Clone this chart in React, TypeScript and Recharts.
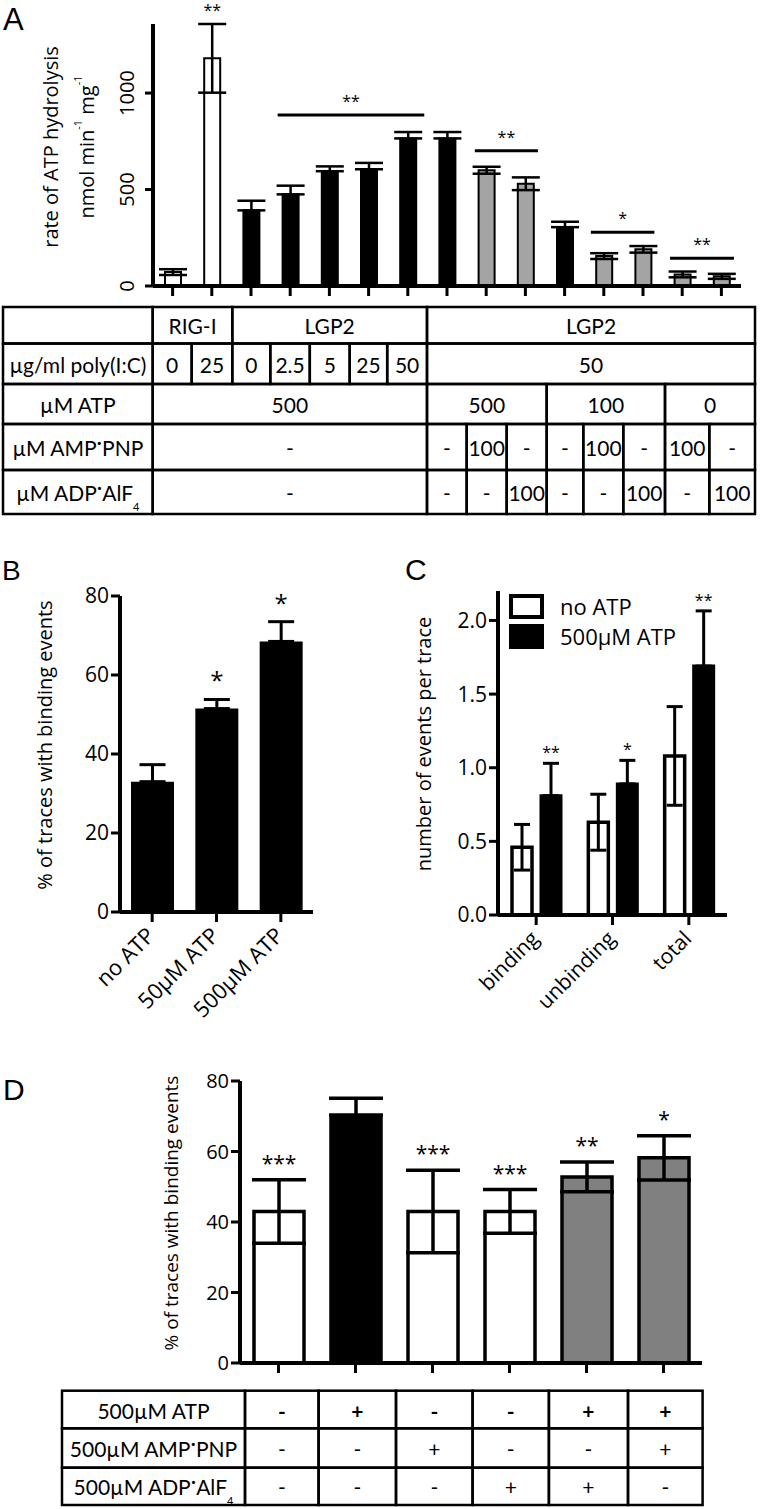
import React from 'react';
import { BarChart, Bar, XAxis, YAxis, ErrorBar, Cell, LabelList, ReferenceLine, Legend } from 'recharts';

const SANS = "'Open Sans', 'DejaVu Sans', sans-serif";
const TABLE_SANS = "Lato, 'Open Sans', sans-serif";
const LETTER = "'Liberation Sans', Arial, sans-serif";

// ---------------- Panel A ----------------
const aConditions = [
  'RIG-I 0', 'RIG-I 25', 'LGP2 0', 'LGP2 2.5', 'LGP2 5', 'LGP2 25', 'LGP2 50',
  'ATP500', 'ATP500+AMP-PNP', 'ATP500+ADP-AlF4', 'ATP100', 'ATP100+AMP-PNP', 'ATP100+ADP-AlF4',
  'AMP-PNP', 'ADP-AlF4',
];
const aRates = [72, 1180, 392, 475, 595, 605, 765, 765, 600, 530, 305, 155, 190, 60, 50];
const aErrors = [15, 178, 50, 45, 25, 33, 33, 33, 18, 33, 28, 15, 17, 15, 13];
const aGroups = ['open', 'open', 'solid', 'solid', 'solid', 'solid', 'solid', 'solid', 'grey', 'grey', 'solid', 'grey', 'grey', 'grey', 'grey'];
const aStars = ['', '**', '', '', '', '', '', '', '', '', '', '', '', '', ''];
const aYTicks = [0, 500, 1000];
const aSigFrom = [3.68, 8.71, 11.67, 13.69];
const aSigTo = [7.42, 10.32, 13.29, 15.32];
const aSigLevel = [886, 701, 278, 144];
const aSigMarks = ['**', '**', '*', '**'];

// table under panel A
const aRowProtein = [{ t: '', s: 1 }, { t: 'RIG-I', s: 2 }, { t: 'LGP2', s: 5 }, { t: 'LGP2', s: 8 }];
const aRowPoly = [{ t: 'µg/ml poly(I:C)', s: 1 }, { t: '0', s: 1 }, { t: '25', s: 1 }, { t: '0', s: 1 }, { t: '2.5', s: 1 }, { t: '5', s: 1 }, { t: '25', s: 1 }, { t: '50', s: 1 }, { t: '50', s: 8 }];
const aRowAtp = [{ t: 'µM ATP', s: 1 }, { t: '500', s: 7 }, { t: '500', s: 3 }, { t: '100', s: 3 }, { t: '0', s: 2 }];
const aRowAmp = [{ t: 'µM AMP·PNP', s: 1 }, { t: '-', s: 7 }, { t: '-', s: 1 }, { t: '100', s: 1 }, { t: '-', s: 1 }, { t: '-', s: 1 }, { t: '100', s: 1 }, { t: '-', s: 1 }, { t: '100', s: 1 }, { t: '-', s: 1 }];
const aRowAdp = [{ t: 'µM ADP·AlF4', s: 1 }, { t: '-', s: 7 }, { t: '-', s: 1 }, { t: '-', s: 1 }, { t: '100', s: 1 }, { t: '-', s: 1 }, { t: '-', s: 1 }, { t: '100', s: 1 }, { t: '-', s: 1 }, { t: '100', s: 1 }];

// ---------------- Panel B ----------------
const bConditions = ['no ATP', '50µM ATP', '500µM ATP'];
const bPercent = [33, 51.5, 68.5];
const bErrors = [4.3, 2.3, 5];
const bStars = ['', '*', '*'];
const bYTicks = [0, 20, 40, 60, 80];

// ---------------- Panel C ----------------
const cCategories = ['binding', 'unbinding', 'total'];
const cSeriesNames = ['no ATP', '500µM ATP'];
const cNoAtp = [0.46, 0.63, 1.08];
const cNoAtpErr = [0.155, 0.19, 0.335];
const cAtp = [0.81, 0.89, 1.69];
const cAtpErr = [0.22, 0.16, 0.375];
const cStars = ['**', '*', '**'];
const cYTicks = [0, 0.5, 1, 1.5, 2];

// ---------------- Panel D ----------------
const dConditions = ['none', 'ATP', 'AMP-PNP', 'ADP-AlF4', 'ATP + ADP-AlF4', 'ATP + AMP-PNP'];
const dPercent = [43, 70.3, 43, 43, 52.8, 58.2];
const dErrors = [9, 4.8, 11.7, 6.2, 4.2, 6.3];
const dGroups = ['open', 'solid', 'open', 'open', 'grey', 'grey'];
const dStars = ['***', '', '***', '***', '**', '*'];
const dYTicks = [0, 20, 40, 60, 80];
const dRowLabels = ['500µM ATP', '500µM AMP·PNP', '500µM ADP·AlF4'];
const dAtp = ['-', '+', '-', '-', '+', '+'];
const dAmp = ['-', '-', '+', '-', '-', '+'];
const dAdp = ['-', '-', '-', '+', '+', '-'];

// ---------------- helpers ----------------
const aFill: Record<string, string> = { open: '#ffffff', solid: '#000000', grey: '#a4a4a4' };
const dFill: Record<string, string> = { open: '#ffffff', solid: '#000000', grey: '#808080' };

const axisStyle = { stroke: '#000', strokeWidth: 4 };
const tickStyle = { stroke: '#000', strokeWidth: 3 };

// solid (black) bars only show the upper half of the error bar
const errFor = (d: any) => (d.group === 'solid' ? [0, d.err] : d.err);

const starLabel = (valueKey: string, errKey: string, starKey: string, gap: number, fontSize: number) => (props: any) => {
  const row = props.value;
  if (!row || typeof row !== 'object' || !row[starKey]) return null;
  const vb = props.viewBox || {};
  const x = Number(vb.x ?? props.x);
  const y = Number(vb.y ?? props.y);
  const w = Number(vb.width ?? props.width);
  const h = Number(vb.height ?? props.height);
  const v = row[valueKey];
  const top = y - (v ? (row[errKey] * h) / v : 0);
  return (
    <text x={x + w / 2} y={top - gap} textAnchor="middle" fontSize={fontSize} fontFamily={SANS} fill="#000">
      {row[starKey]}
    </text>
  );
};

const rich = (text: string, subSize: number, lift: number) => {
  let rest = text;
  let sub = false;
  if (rest.endsWith('AlF4')) {
    rest = rest.slice(0, -1);
    sub = true;
  }
  const parts: React.ReactNode[] = [];
  rest.split('·').forEach((s, i) => {
    if (i > 0) {
      parts.push(<tspan key={'d' + i} dy={-lift}>·</tspan>);
      parts.push(<tspan key={'r' + i} dy={lift}>{s}</tspan>);
    } else {
      parts.push(<tspan key={'s' + i}>{s}</tspan>);
    }
  });
  if (sub) parts.push(<tspan key="sub" dy={14} fontSize={subSize}>4</tspan>);
  return parts;
};

type CellDef = { t: string; s: number };

const SvgTable = ({ rows, colX, rowY, fontSize, boldRows }: { rows: CellDef[][]; colX: number[]; rowY: number[]; fontSize: number; boldRows?: number[] }) => {
  const out: React.ReactNode[] = [];
  rows.forEach((row, r) => {
    let c = 0;
    row.forEach((cell, k) => {
      const x0 = colX[c];
      const x1 = colX[c + cell.s];
      c += cell.s;
      const y0 = rowY[r];
      const y1 = rowY[r + 1];
      out.push(<rect key={`r${r}-${k}`} x={x0} y={y0} width={x1 - x0} height={y1 - y0} fill="none" stroke="#000" strokeWidth={2.5} />);
      if (cell.t) {
        out.push(
          <text
            key={`t${r}-${k}`}
            x={(x0 + x1) / 2}
            y={(y0 + y1) / 2}
            textAnchor="middle"
            dominantBaseline="central"
            fontSize={fontSize}
            fontWeight={boldRows && boldRows.includes(r) && k > 0 ? 700 : 400}
            fontFamily={TABLE_SANS}
            fill="#000"
          >
            {rich(cell.t, 11, 6)}
          </text>
        );
      }
    });
  });
  return <g>{out}</g>;
};

// ---------------- Panel A chart ----------------
const aData = aConditions.map((name, i) => ({ idx: i + 1, name, rate: aRates[i], err: aErrors[i], star: aStars[i], group: aGroups[i] }));

const ARotTick = (props: any) => {
  const { x, y, payload } = props;
  return (
    <text transform={`translate(${x - 17},${y}) rotate(-90)`} textAnchor="middle" dominantBaseline="central" fontSize={20} fill="#000" fontFamily={SANS}>
      {payload.value}
    </text>
  );
};

const aTitle = (props: any) => {
  const vb = props.viewBox || { x: 0, y: 24, width: 153, height: 262 };
  const cy = vb.y + vb.height / 2 - 8;
  return (
    <g fontFamily={SANS} fill="#000">
      <text transform={`translate(${vb.x + 50},${cy}) rotate(-90)`} textAnchor="middle" dominantBaseline="central" fontSize={20}>
        rate of ATP hydrolysis
      </text>
      <text transform={`translate(${vb.x + 86},${cy}) rotate(-90)`} textAnchor="middle" dominantBaseline="central" fontSize={20}>
        nmol min<tspan dy={-9} fontSize={11}>-1</tspan>
        <tspan dy={9}> mg</tspan>
        <tspan dy={-9} fontSize={11}>-1</tspan>
      </text>
    </g>
  );
};

const PanelA = () => (
  <BarChart width={760} height={300} data={aData} margin={{ top: 24, right: 19, bottom: 0, left: 0 }} style={{ fontFamily: SANS }}>
    <XAxis
      type="number"
      dataKey="idx"
      domain={[0.5, 15.5]}
      ticks={aData.map((d) => d.idx)}
      tickFormatter={() => ''}
      height={14}
      tickSize={10}
      axisLine={axisStyle}
      tickLine={tickStyle}
      allowDataOverflow
    />
    <YAxis type="number" domain={[0, 1350]} ticks={aYTicks} width={153} tickSize={8} axisLine={axisStyle} tickLine={tickStyle} tick={ARotTick} label={aTitle} />
    <Bar dataKey="rate" barSize={16} stroke="#000" strokeWidth={2} isAnimationActive={false}>
      {aData.map((d) => (
        <Cell key={d.name} fill={aFill[d.group]} />
      ))}
      <ErrorBar dataKey={errFor} width={14} strokeWidth={2.5} stroke="#000" direction="y" />
      <LabelList dataKey={(d: any) => d} content={starLabel('rate', 'err', 'star', 8, 16)} />
    </Bar>
    {aSigMarks.map((m, i) => (
      <ReferenceLine
        key={`sig${i}`}
        segment={[
          { x: aSigFrom[i], y: aSigLevel[i] },
          { x: aSigTo[i], y: aSigLevel[i] },
        ]}
        stroke="#000"
        strokeWidth={3}
        label={{ value: m, position: 'top', offset: 8, fill: '#000', fontSize: 16, fontFamily: SANS }}
      />
    ))}
  </BarChart>
);

// ---------------- Panel B chart ----------------
const bData = bConditions.map((name, i) => ({ name, pct: bPercent[i], err: bErrors[i], star: bStars[i], group: 'solid' }));

const slantTick = (fs: number) => (props: any) => {
  const { x, y, payload } = props;
  return (
    <text transform={`translate(${x + 4},${y + 13}) rotate(-45)`} textAnchor="end" fontSize={fs} fill="#000" fontFamily={SANS}>
      {payload.value}
    </text>
  );
};

const vTitle = (text: string, dx: number, dy: number, fs: number) => (props: any) => {
  const vb = props.viewBox;
  const cy = vb.y + vb.height / 2 + dy;
  return (
    <text transform={`translate(${vb.x + dx},${cy}) rotate(-90)`} textAnchor="middle" dominantBaseline="central" fontSize={fs} fill="#000" fontFamily={SANS}>
      {text}
    </text>
  );
};

const PanelB = () => (
  <BarChart width={340} height={480} data={bData} margin={{ top: 36, right: 27, bottom: 0, left: 0 }} style={{ fontFamily: SANS }}>
    <XAxis dataKey="name" height={128} tickSize={10} axisLine={axisStyle} tickLine={tickStyle} tick={slantTick(22)} interval={0} />
    <YAxis
      domain={[0, 80]}
      ticks={bYTicks}
      width={120}
      tickSize={9}
      axisLine={axisStyle}
      tickLine={tickStyle}
      tick={{ fill: '#000', fontSize: 21, fontFamily: SANS }}
      label={vTitle('% of traces with binding events', 44, -9, 20)}
    />
    <Bar dataKey="pct" barSize={43} fill="#000" isAnimationActive={false}>
      <ErrorBar dataKey={errFor} width={13} strokeWidth={3} stroke="#000" direction="y" />
      <LabelList dataKey={(d: any) => d} content={starLabel('pct', 'err', 'star', 10, 24)} />
    </Bar>
  </BarChart>
);

// ---------------- Panel C chart ----------------
const cData = cCategories.map((name, i) => ({
  name,
  noAtp: cNoAtp[i],
  noAtpErr: cNoAtpErr[i],
  atp: cAtp[i],
  atpErr: cAtpErr[i],
  star: cStars[i],
}));

const cLegend = () => (
  <div style={{ fontFamily: SANS, fontSize: 22, color: '#000', lineHeight: 1 }}>
    {cSeriesNames.map((n, i) => (
      <div key={n} style={{ display: 'flex', alignItems: 'center', height: 30 }}>
        <div style={{ width: 27, height: 17, border: '4px solid #000', background: i === 0 ? '#fff' : '#000' }} />
        <span style={{ marginLeft: 16, whiteSpace: 'nowrap' }}>{n}</span>
      </div>
    ))}
  </div>
);

const PanelC = () => (
  <BarChart width={380} height={480} data={cData} margin={{ top: 31, right: 33, bottom: 0, left: 0 }} barGap={9} style={{ fontFamily: SANS }}>
    <XAxis dataKey="name" height={125} tickSize={10} axisLine={axisStyle} tickLine={tickStyle} tick={slantTick(21)} interval={0} />
    <YAxis
      domain={[0, 2.2]}
      ticks={cYTicks}
      width={118}
      tickSize={9}
      axisLine={axisStyle}
      tickLine={tickStyle}
      tickFormatter={(v: number) => v.toFixed(1)}
      tick={{ fill: '#000', fontSize: 21, fontFamily: SANS }}
      label={vTitle('number of events per trace', 43, -9, 20)}
    />
    <Legend
      layout="horizontal"
      verticalAlign="middle"
      align="center"
      content={cLegend}
      wrapperStyle={{ left: 129, top: 31, width: 200, height: 60 }}
    />
    <Bar dataKey="noAtp" name={cSeriesNames[0]} barSize={20} fill="#fff" stroke="#000" strokeWidth={3.5} isAnimationActive={false}>
      <ErrorBar dataKey="noAtpErr" width={8} strokeWidth={3} stroke="#000" direction="y" />
    </Bar>
    <Bar dataKey="atp" name={cSeriesNames[1]} barSize={20} fill="#000" stroke="#000" strokeWidth={3} isAnimationActive={false}>
      <ErrorBar dataKey={(d: any) => [0, d.atpErr]} width={8} strokeWidth={3} stroke="#000" direction="y" />
      <LabelList dataKey={(d: any) => d} content={starLabel('atp', 'atpErr', 'star', 5, 16)} />
    </Bar>
  </BarChart>
);

// ---------------- Panel D chart ----------------
const dData = dConditions.map((name, i) => ({ name, pct: dPercent[i], err: dErrors[i], star: dStars[i], group: dGroups[i] }));

const PanelD = () => (
  <BarChart width={640} height={340} data={dData} margin={{ top: 41, right: 58, bottom: 0, left: 0 }} style={{ fontFamily: SANS }}>
    <XAxis dataKey="name" height={17} tickSize={10} axisLine={axisStyle} tickLine={tickStyle} tickFormatter={() => ''} interval={0} />
    <YAxis
      domain={[0, 80]}
      ticks={dYTicks}
      width={120}
      tickSize={9}
      axisLine={axisStyle}
      tickLine={tickStyle}
      tick={{ fill: '#000', fontSize: 20, fontFamily: SANS }}
      label={vTitle('% of traces with binding events', 51, -9, 19)}
    />
    <Bar dataKey="pct" barSize={50} stroke="#000" strokeWidth={3.5} isAnimationActive={false}>
      {dData.map((d) => (
        <Cell key={d.name} fill={dFill[d.group]} />
      ))}
      <ErrorBar dataKey={errFor} width={27} strokeWidth={3.5} stroke="#000" direction="y" />
      <LabelList dataKey={(d: any) => d} content={starLabel('pct', 'err', 'star', 9, 21)} />
    </Bar>
  </BarChart>
);

// ---------------- tables & letters ----------------
const aColX = [3, 152.7, 191.7, 232.3, 270.3, 309.8, 349.7, 387.2, 427, 466.7, 506.7, 546.7, 583.3, 623.3, 665, 709.3, 755];
const aRowY = [307, 343.5, 384, 424, 470, 514];
const dColX = [62, 245, 318.6, 396, 472.6, 548.9, 628, 702.6];
const dRowY = [1390.7, 1428.3, 1467.7, 1505];

const dTableRows: CellDef[][] = [
  [{ t: dRowLabels[0], s: 1 }, ...dAtp.map((t) => ({ t, s: 1 }))],
  [{ t: dRowLabels[1], s: 1 }, ...dAmp.map((t) => ({ t, s: 1 }))],
  [{ t: dRowLabels[2], s: 1 }, ...dAdp.map((t) => ({ t, s: 1 }))],
];

export default function App() {
  return (
    <div style={{ position: 'absolute', left: 0, top: 0, width: 760, height: 1509, background: '#fff', overflow: 'hidden' }}>
      <svg width={760} height={1509} style={{ position: 'absolute', left: 0, top: 0 }}>
        <g fontFamily={LETTER} fill="#000">
          <text x={3} y={30} fontSize={31}>A</text>
          <text x={2} y={580} fontSize={28}>B</text>
          <text x={405} y={580} fontSize={30}>C</text>
          <text x={3} y={1100} fontSize={30}>D</text>
        </g>
        <SvgTable rows={[aRowProtein, aRowPoly, aRowAtp, aRowAmp, aRowAdp]} colX={aColX} rowY={aRowY} fontSize={21} />
        <SvgTable rows={dTableRows} colX={dColX} rowY={dRowY} fontSize={21} boldRows={[0]} />
      </svg>
      <div style={{ position: 'absolute', left: 0, top: 0 }}>
        <PanelA />
      </div>
      <div style={{ position: 'absolute', left: 0, top: 560 }}>
        <PanelB />
      </div>
      <div style={{ position: 'absolute', left: 380, top: 560 }}>
        <PanelC />
      </div>
      <div style={{ position: 'absolute', left: 120, top: 1040 }}>
        <PanelD />
      </div>
    </div>
  );
}
